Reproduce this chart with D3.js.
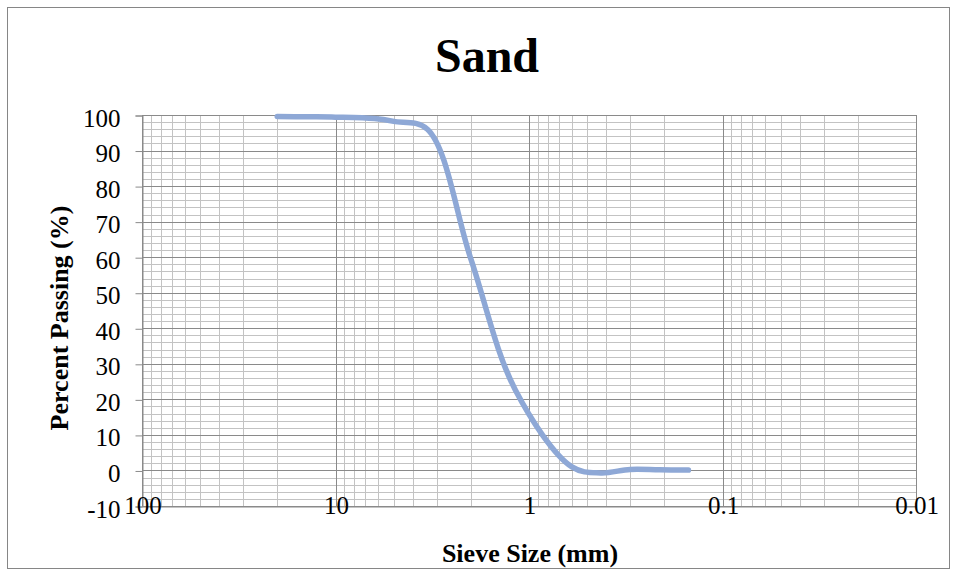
<!DOCTYPE html>
<html>
<head>
<meta charset="utf-8">
<script src="https://cdn.jsdelivr.net/npm/d3@7/dist/d3.min.js"></script>
<style>
  html, body { margin: 0; padding: 0; background: #fff; }
  svg { display: block; }
  text { font-family: "Liberation Serif", "Times New Roman", serif; fill: #000; }
</style>
</head>
<body>
<svg id="chart" width="957" height="576"></svg>
<script>
// ---- data ----
const sieveSizes = [20, 14, 10, 6.3, 5, 3.35, 2, 1.18, 0.6, 0.425, 0.3, 0.212, 0.15];
const percentPassing = [99.6, 99.5, 99.4, 99.0, 98.2, 96.0, 59.6, 22.8, 1.0, -0.7, 0.3, 0.2, 0.1];
const xTickValues = [100, 10, 1, 0.1, 0.01];
const xTickLabels = ["100", "10", "1", "0.1", "0.01"];
const yTickValues = [-10, 0, 10, 20, 30, 40, 50, 60, 70, 80, 90, 100];
const yTickLabels = ["-10", "0", "10", "20", "30", "40", "50", "60", "70", "80", "90", "100"];
const titleText = "Sand";
const xTitle = "Sieve Size (mm)";
const yTitle = "Percent Passing (%)";

// ---- layout ----
const svg = d3.select("#chart");
const plot = { left: 142, right: 916, top: 115, bottom: 506 };

const x = d3.scaleLog().domain([100, 0.01]).range([plot.left, plot.right]);
const y = d3.scaleLinear().domain([-10, 100]).range([plot.bottom, plot.top]);

// chart border
svg.append("rect")
  .attr("x", 7.5).attr("y", 7.5).attr("width", 942).attr("height", 561)
  .attr("fill", "#fff").attr("stroke", "#868686").attr("stroke-width", 1);

const snap = v => Math.round(v) + 0.5;

// minor grid
const minorY = d3.range(-10, 100.001, 2).filter(v => v % 10 !== 0);
const minorX = [];
[0.01, 0.1, 1, 10].forEach(dec => { for (let k = 2; k <= 9; k++) minorX.push(dec * k); });

const grid = svg.append("g");
grid.selectAll("line.hmin").data(minorY).enter().append("line")
  .attr("x1", plot.left).attr("x2", plot.right)
  .attr("y1", d => snap(y(d))).attr("y2", d => snap(y(d)))
  .attr("stroke", "#c3c3c3").attr("stroke-width", 1);
grid.selectAll("line.vmin").data(minorX).enter().append("line")
  .attr("y1", plot.top).attr("y2", plot.bottom)
  .attr("x1", d => snap(x(d))).attr("x2", d => snap(x(d)))
  .attr("stroke", "#c3c3c3").attr("stroke-width", 1);
// major grid
grid.selectAll("line.hmaj").data(yTickValues).enter().append("line")
  .attr("x1", plot.left).attr("x2", plot.right)
  .attr("y1", d => snap(y(d))).attr("y2", d => snap(y(d)))
  .attr("stroke", "#8a8a8a").attr("stroke-width", 1);
grid.selectAll("line.vmaj").data(xTickValues).enter().append("line")
  .attr("y1", plot.top).attr("y2", plot.bottom)
  .attr("x1", d => snap(x(d))).attr("x2", d => snap(x(d)))
  .attr("stroke", "#8a8a8a").attr("stroke-width", 1);

// y axis with ticks
const yAxis = d3.axisLeft(y).tickValues(yTickValues)
  .tickFormat((d, i) => yTickLabels[i]).tickSize(7).tickPadding(15);
const gy = svg.append("g").attr("transform", `translate(${plot.left + 0.5},0.5)`).call(yAxis);
gy.select(".domain").attr("stroke", "#8a8a8a");
gy.selectAll(".tick line").attr("stroke", "#8a8a8a");
gy.selectAll(".tick text")
  .attr("font-size", 25).attr("font-family", "Liberation Serif, Times New Roman, serif")
  .attr("fill", "#000").attr("dy", "0.42em");

// x axis labels (overlap the bottom axis as in the reference)
const xAxis = d3.axisBottom(x).tickValues(xTickValues)
  .tickFormat((d, i) => xTickLabels[i]).tickSize(0).tickPadding(0);
const gx = svg.append("g").attr("transform", `translate(0.5,${plot.bottom + 0.5})`).call(xAxis);
gx.select(".domain").attr("stroke", "#8a8a8a");
gx.selectAll(".tick text")
  .attr("font-size", 25).attr("font-family", "Liberation Serif, Times New Roman, serif")
  .attr("fill", "#000").attr("y", 0).attr("dy", "0.28em");

// data line
const pts = sieveSizes.map((d, i) => [d, percentPassing[i]]);
const line = d3.line().x(d => x(d[0])).y(d => y(d[1])).curve(d3.curveCatmullRom.alpha(0.5));
svg.append("path").datum(pts)
  .attr("d", line).attr("fill", "none")
  .attr("stroke", "#8ea8d6").attr("stroke-width", 5.5).attr("stroke-linecap", "round")
  .attr("stroke-linejoin", "round");

// titles
svg.append("text").attr("x", 487).attr("y", 72).attr("text-anchor", "middle")
  .attr("font-size", 48).attr("font-weight", "bold").text(titleText);
svg.append("text").attr("x", 530).attr("y", 562).attr("text-anchor", "middle")
  .attr("font-size", 26).attr("font-weight", "bold").text(xTitle);
svg.append("text").attr("transform", "translate(68,318) rotate(-90)")
  .attr("text-anchor", "middle")
  .attr("font-size", 26).attr("font-weight", "bold").text(yTitle);
</script>
</body>
</html>
